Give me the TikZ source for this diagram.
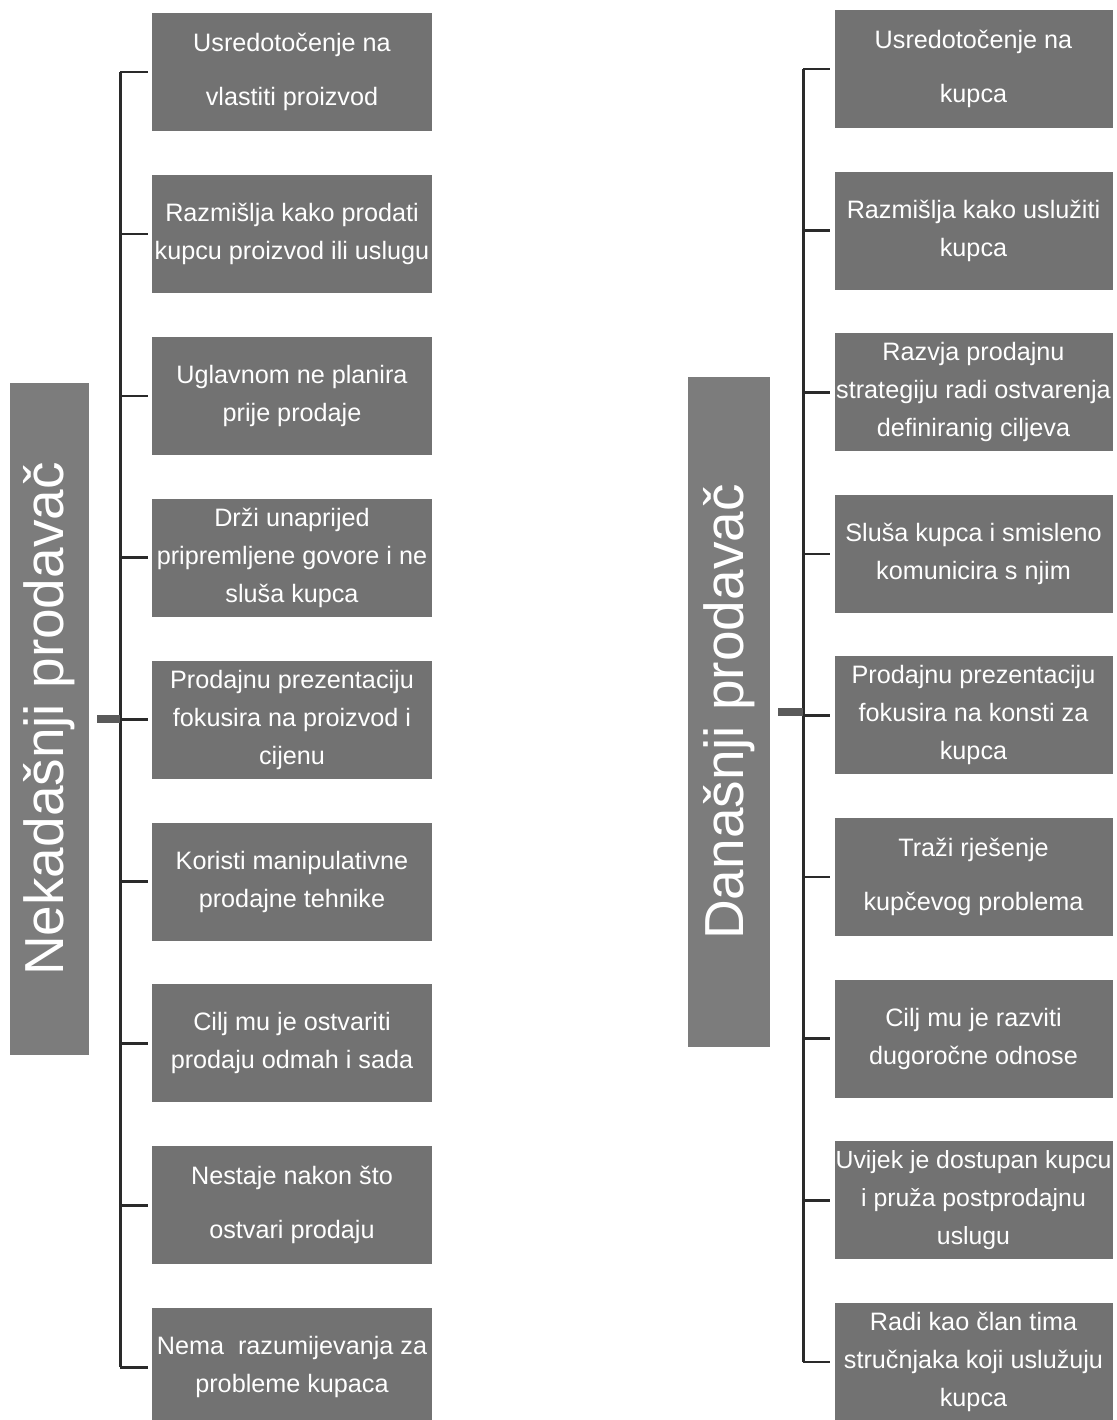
\documentclass[tikz,border=0pt]{standalone}
\usepackage{fontspec}
\setmainfont{Liberation Sans}
\definecolor{boxgray}{HTML}{727272}
\definecolor{titlegray}{HTML}{7C7C7C}
\definecolor{linegray}{HTML}{2A2A2A}
\definecolor{stubgray}{HTML}{5A5A5A}
\begin{document}
\begin{tikzpicture}[x=0.5pt,y=-0.5pt,
  item/.style={fill=boxgray, text=white, minimum width=140pt, minimum height=59pt,
    inner sep=0pt, align=center, font=\fontsize{12.6}{19}\selectfont},
  itemr/.style={item, minimum width=139pt},
  widesp/.style={font=\fontsize{12.6}{27}\selectfont},
  narrowtxt/.style={font=\fontsize{12.4}{19}\selectfont},
  titlebox/.style={fill=titlegray, text=white, inner sep=0pt, rotate=90,
    font=\fontsize{27.5}{33}\selectfont},
  bus/.style={draw=linegray, line width=1.5pt},
  tickline/.style={draw=linegray, line width=1.3pt, shorten >=2pt},
  stub/.style={draw=stubgray, line width=4pt, shorten <=4pt}
]
\useasboundingbox (0,0) rectangle (1117,1420);
\clip (0,0) rectangle (1117,1420);

% left column
\node[titlebox, minimum width=336pt, minimum height=39.5pt] (TL) at (49.5,719) {Nekadašnji prodavač};
\node[item, widesp] (L1) at (292,72)    {Usredotočenje na\\vlastiti proizvod};
\node[item] (L2) at (292,233.9)  {Razmišlja kako prodati\\kupcu proizvod ili uslugu};
\node[item] (L3) at (292,395.8)  {Uglavnom ne planira\\prije prodaje};
\node[item] (L4) at (292,557.7)  {Drži unaprijed\\pripremljene govore i ne\\sluša kupca};
\node[item] (L5) at (292,719.6)  {Prodajnu prezentaciju\\fokusira na proizvod i\\cijenu};
\node[item] (L6) at (292,881.5)  {Koristi manipulativne\\prodajne tehnike};
\node[item] (L7) at (292,1043.4) {Cilj mu je ostvariti\\prodaju odmah i sada};
\node[item, widesp] (L8) at (292,1205.3) {Nestaje nakon što\\ostvari prodaju};
\node[item] (L9) at (292,1367.2) {Nema~ razumijevanja za\\probleme kupaca};

\coordinate (lbus) at (120,0);
\draw[bus] (L1.west -| lbus) -- (L9.west -| lbus);
\foreach \k in {1,...,9} { \draw[tickline] (L\k.west -| lbus) -- (L\k.west); }
\draw[stub] (TL.south) -- (TL.south -| lbus);

% right column
\node[titlebox, minimum width=335pt, minimum height=41pt] (TR) at (729,712) {Današnji prodavač};
\node[itemr, widesp] (R1) at (973.5,69)     {Usredotočenje na\\kupca};
\node[itemr] (R2) at (973.5,230.6)  {Razmišlja kako uslužiti\\kupca};
\node[itemr] (R3) at (973.5,392.2)  {Razvja prodajnu\\strategiju radi ostvarenja\\definiranig ciljeva};
\node[itemr] (R4) at (973.5,553.8)  {Sluša kupca i smisleno\\komunicira s njim};
\node[itemr] (R5) at (973.5,715.4)  {Prodajnu prezentaciju\\fokusira na konsti za\\kupca};
\node[itemr, widesp] (R6) at (973.5,877)    {Traži rješenje\\kupčevog problema};
\node[itemr] (R7) at (973.5,1038.6) {Cilj mu je razviti\\dugoročne odnose};
\node[itemr, narrowtxt] (R8) at (973.5,1200.2) {Uvijek je dostupan kupcu\\i pruža postprodajnu\\uslugu};
\node[itemr] (R9) at (973.5,1361.8) {Radi kao član tima\\stručnjaka koji uslužuju\\kupca};

\coordinate (rbus) at (803,0);
\draw[bus] (R1.west -| rbus) -- (R9.west -| rbus);
\foreach \k in {1,...,9} { \draw[tickline] (R\k.west -| rbus) -- (R\k.west); }
\draw[stub] (TR.south) -- (TR.south -| rbus);
\end{tikzpicture}
\end{document}
